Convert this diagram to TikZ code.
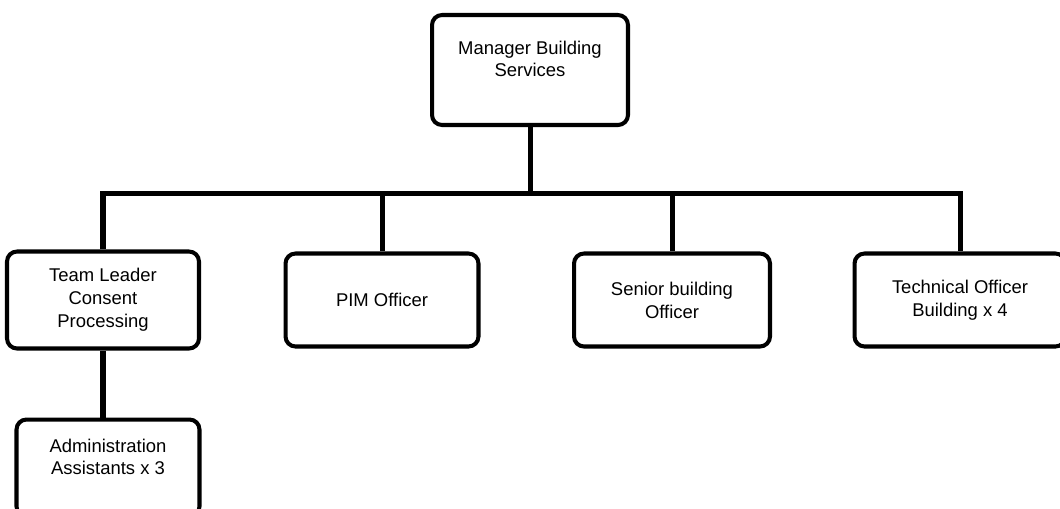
\documentclass[tikz,border=0pt]{standalone}
\usepackage{fontspec}
\setmainfont{Liberation Sans}
\usetikzlibrary{calc}

\begin{document}
\begin{tikzpicture}[x=0.02cm, y=-0.02cm,
    post/.style={draw=black, line width=2.3pt, rounded corners=0.2cm, align=center,
                 inner sep=0pt, font=\fontsize{10.5}{13}\selectfont},
    link/.style={draw=black, line width=2.85pt}]
   \def\boxhi{1.86cm}
   \def\barY{193}
   \useasboundingbox (0,0) rectangle (1060,508);
   \clip (0,0) rectangle (1060,508);
   \node[post, minimum width=3.92cm, minimum height=2.2cm, text depth=0.45cm] (mgr) at (530,70) {Manager Building\\Services};
   \node[post, minimum width=3.84cm, minimum height=1.94cm] (lead) at (103,300) {Team Leader\\Consent\\Processing};
   \node[post, minimum width=3.66cm, minimum height=1.94cm, text depth=0.45cm] (admin) at (108,468) {Administration\\Assistants x 3};
   \node[post, minimum width=3.86cm, minimum height=\boxhi] (pim) at (382,300) {PIM Officer};
   \node[post, minimum width=3.92cm, minimum height=\boxhi] (senior) at (672,300) {Senior building\\Officer};
   \node[post, minimum width=4.22cm, minimum height=\boxhi] (tech) at (960,300) {Technical Officer\\Building x 4};
   \coordinate (bar) at (530,\barY);
   \draw[link] (mgr) -- (mgr |- bar);
   \draw[link] (lead) |- (bar) -| (tech);
   \draw[link] (pim) -- (pim |- bar);
   \draw[link] (senior) -- (senior |- bar);
   \draw[link] (lead) -- (lead |- admin.north);
\end{tikzpicture}
\end{document}
